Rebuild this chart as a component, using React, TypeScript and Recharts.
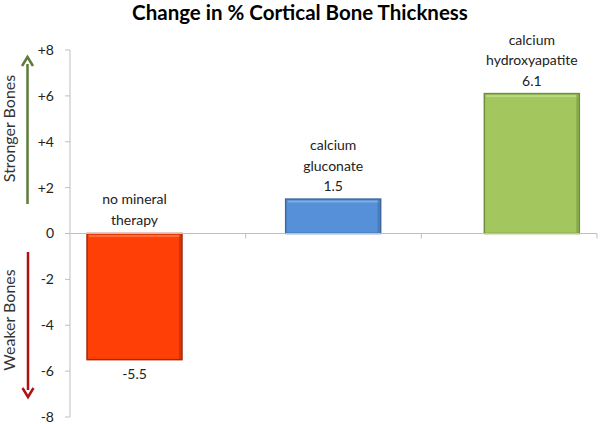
import React from 'react';
import { BarChart, Bar, XAxis, YAxis, LabelList, ReferenceLine } from 'recharts';

const categories = ['no mineral therapy', 'calcium gluconate', 'calcium hydroxyapatite'];
const nameLines = [['no mineral', 'therapy'], ['calcium', 'gluconate'], ['calcium', 'hydroxyapatite']];
const noMineralValues = [-5.5, null, null];
const gluconateValues = [null, 1.5, null];
const hydroxyValues = [null, null, 6.1];
const valueLabels = ['-5.5', '1.5', '6.1'];
const yTicks = [-8, -6, -4, -2, 0, 2, 4, 6, 8];
const boundaryTicks = [1, 2, 3];

const seriesKeys = ['noMineral', 'gluconate', 'hydroxy'];
const fills = ['#FF3F05', '#5690D8', '#A3C75E'];
const strokes = ['#A02C0E', '#3B679E', '#6F8E3A'];
const highlights = ['#FF7A4A', '#86B2EA', '#C2DE8A'];

const data = categories.map((c, i) => ({
  category: c,
  idx: i + 0.5,
  noMineral: noMineralValues[i],
  gluconate: gluconateValues[i],
  hydroxy: hydroxyValues[i],
}));

const FONT = 'Lato, "Open Sans", sans-serif';

const makeShape = (si: number) => (props: any) => {
  const { x, y, width, height } = props;
  if (x == null || !height) return <g />;
  const top = Math.min(y, y + height);
  const h = Math.abs(height);
  return (
    <g>
      <rect x={x} y={top} width={width} height={h} fill={fills[si]} stroke={strokes[si]} strokeWidth={1.5} />
      <rect x={x + 2} y={top + 1.5} width={width - 4} height={2} fill={highlights[si]} opacity={0.8} />
      <rect x={x + width - 3} y={top + 1} width={2} height={h - 2} fill={strokes[si]} opacity={0.5} />
    </g>
  );
};

const makeLabel = (si: number) => (props: any) => {
  const vb = props.viewBox || props;
  const { x, y, width, height } = vb;
  const value = props.value;
  if (value == null || x == null) return null;
  const top = Math.min(y, y + height);
  const bottom = Math.max(y, y + height);
  const cx = x + width / 2;
  const lines = nameLines[si];
  const lh = 20.5;
  const style = { fontFamily: FONT, fontSize: 14, fill: '#222' };
  if (value >= 0) {
    return (
      <g>
        {lines.map((l, i) => (
          <text key={i} x={cx} y={top - 8 - lh * (lines.length - i)} textAnchor="middle" style={style}>{l}</text>
        ))}
        <text x={cx} y={top - 8} textAnchor="middle" style={style}>{valueLabels[si]}</text>
      </g>
    );
  }
  return (
    <g>
      {lines.map((l, i) => (
        <text key={i} x={cx} y={top - 9 - lh * (lines.length - 1 - i)} textAnchor="middle" style={style}>{l}</text>
      ))}
      <text x={cx} y={bottom + 19} textAnchor="middle" style={style}>{valueLabels[si]}</text>
    </g>
  );
};

const fmtTick = (v: number) => (v > 0 ? `+${v}` : `${v}`);

export default function App() {
  return (
    <div style={{ position: 'absolute', left: 0, top: 0, width: 600, height: 424, background: '#fff' }}>
      <BarChart
        width={600}
        height={424}
        data={data}
        margin={{ top: 50, right: 3, bottom: 7, left: 0 }}
        barSize={95}
        barGap={-72}
      >
        <XAxis dataKey="category" hide />
        <XAxis xAxisId="num" type="number" dataKey="idx" domain={[0, 3]} hide allowDataOverflow />
        <YAxis
          domain={[-8, 8]}
          ticks={yTicks}
          interval={0}
          width={70}
          tickFormatter={fmtTick}
          stroke="#BFBFBF"
          tickSize={5}
          tickMargin={11}
          tick={{ fill: '#222', fontSize: 14, fontFamily: FONT }}
          allowDataOverflow
        />
        <ReferenceLine y={0} stroke="#BFBFBF" strokeWidth={1} />
        {boundaryTicks.map((b) => (
          <ReferenceLine
            key={b}
            xAxisId="num"
            segment={[{ x: b, y: 0 }, { x: b, y: -0.22 }]}
            stroke="#BFBFBF"
            ifOverflow="visible"
          />
        ))}
        {seriesKeys.map((k, si) => (
          <Bar key={k} dataKey={k} isAnimationActive={false} shape={makeShape(si)}>
            <LabelList dataKey={k} content={makeLabel(si)} />
          </Bar>
        ))}
      </BarChart>
      <svg width={600} height={424} style={{ position: 'absolute', left: 0, top: 0, pointerEvents: 'none' }}>
        <text x={300} y={19.5} textAnchor="middle" style={{ fontFamily: FONT, fontSize: 20.5, fontWeight: 700, fill: '#000' }}>
          Change in % Cortical Bone Thickness
        </text>
        <line x1={27.5} y1={204} x2={27.5} y2={64} stroke="#5E7B3A" strokeWidth={2.5} />
        <polyline points="22,66 27.5,57 33,66" fill="none" stroke="#5E7B3A" strokeWidth={2.5} />
        <line x1={28} y1={252} x2={28} y2={390} stroke="#B01212" strokeWidth={2.5} />
        <polyline points="22.5,388 28,397 33.5,388" fill="none" stroke="#B01212" strokeWidth={2.5} />
        <text x={0} y={0} transform="translate(15,128.5) rotate(-90)" textAnchor="middle" style={{ fontFamily: FONT, fontSize: 16, fill: '#333' }}>
          Stronger Bones
        </text>
        <text x={0} y={0} transform="translate(15,320) rotate(-90)" textAnchor="middle" style={{ fontFamily: FONT, fontSize: 16, fill: '#333' }}>
          Weaker Bones
        </text>
      </svg>
    </div>
  );
}
